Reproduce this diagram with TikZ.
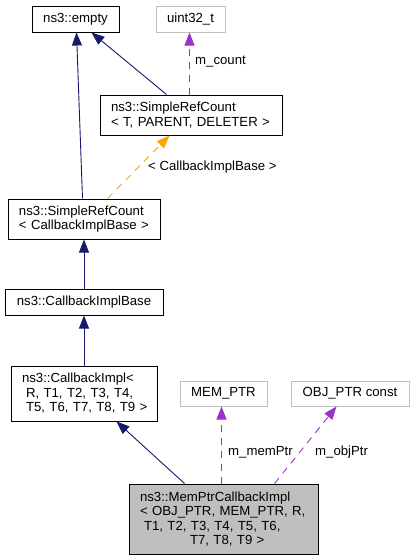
\documentclass[tikz,border=0pt]{standalone}
\usepackage{fontspec}
\setmainfont{Liberation Sans}
\usetikzlibrary{arrows.meta}
\definecolor{inh}{HTML}{191970}
\definecolor{usec}{HTML}{9A32CD}
\definecolor{tmpl}{HTML}{FFA500}
\definecolor{grayb}{HTML}{BFBFBF}
\begin{document}
\begin{tikzpicture}[x=1pt,y=-1pt,
  font=\fontsize{13.2}{14.5}\selectfont,
  cls/.style={draw=black,line width=1pt,fill=white,inner sep=0pt,minimum height=#1},
  ext/.style={draw=grayb,line width=1pt,fill=white,inner sep=0pt,minimum height=#1},
  mline/.style={align=left,inner xsep=11pt,inner ysep=0pt},
  inhe/.style={draw=inh,line width=0.9pt,-{Triangle[length=13pt,width=10pt]}},
  usee/.style={draw=usec,line width=0.9pt,dash pattern=on 7pt off 6pt,-{Triangle[length=13pt,width=10pt]}},
  tmple/.style={draw=tmpl,line width=0.9pt,dash pattern=on 7pt off 6pt,-{Triangle[length=13pt,width=10pt]}},
  lbl/.style={anchor=west,inner sep=0pt}
]
\useasboundingbox (0,0) rectangle (415,560);
\fill[white] (0,0) rectangle (415,560);

\node[cls=26pt,minimum width=87pt] (empty) at (75.5,19) {ns3::empty};
\node[ext=26pt,minimum width=69pt] (uint) at (190.5,19) {uint32\_t};
\node[cls=40pt,mline,text width=160pt] (srcT) at (191,115) {\mbox{ns3::SimpleRefCount}\\\mbox{{<} T, PARENT, DELETER {>}}};
\node[cls=40pt,mline,text width=130pt] (srcCB) at (84,219) {\mbox{ns3::SimpleRefCount}\\\mbox{{<} CallbackImplBase {>}}};
\node[cls=26pt,minimum width=158pt] (cib) at (84,302) {ns3::CallbackImplBase};
\node[cls=55pt,mline,text width=124pt] (ci) at (84,393.5) {\mbox{ns3::CallbackImpl{<}}\\\mbox{\hspace*{4pt}R, T1, T2, T3, T4,}\\\mbox{\hspace*{4pt}T5, T6, T7, T8, T9 {>}}};
\node[ext=25pt,minimum width=87pt] (mem) at (223.5,393.5) {MEM\_PTR};
\node[ext=25pt,minimum width=118pt] (obj) at (350,393.5) {OBJ\_PTR const};
\node[cls=70pt,mline,text width=167pt,fill=grayb] (mpc) at (223.5,519) {\mbox{ns3::MemPtrCallbackImpl}\\\mbox{{<} OBJ\_PTR, MEM\_PTR, R,}\\\mbox{\hspace*{4pt}T1, T2, T3, T4, T5, T6,}\\\mbox{\hspace*{50pt}T7, T8, T9 {>}}};

\draw[inhe] ([xshift=67pt]srcT.north west) -- ([xshift=60pt]empty.south west);
\draw[inhe] ([xshift=75pt]srcCB.north west) -- ([xshift=45pt]empty.south west);
\draw[usee] ([xshift=90pt]srcT.north west) -- ([xshift=34pt]uint.south west);
\draw[tmple] ([xshift=100pt]srcCB.north west) -- ([xshift=70pt]srcT.south west);
\draw[inhe] (cib.north) -- (srcCB.south);
\draw[inhe] (ci.north) -- (cib.south);
\draw[inhe] ([xshift=56pt]mpc.north west) -- ([xshift=106pt]ci.south west);
\draw[usee] ([xshift=93pt]mpc.north west) -- ([xshift=42pt]mem.south west);
\draw[usee] ([xshift=146pt]mpc.north west) -- ([xshift=46pt]obj.south west);

\node[lbl] (lcount) at (195,62) {m\_count};
\node[lbl] (ltmpl) at (148,167) {{<} CallbackImplBase {>}};
\node[lbl] (lmem) at (228,452) {m\_memPtr};
\node[lbl] (lobj) at (315,452) {m\_objPtr};
\end{tikzpicture}
\end{document}
